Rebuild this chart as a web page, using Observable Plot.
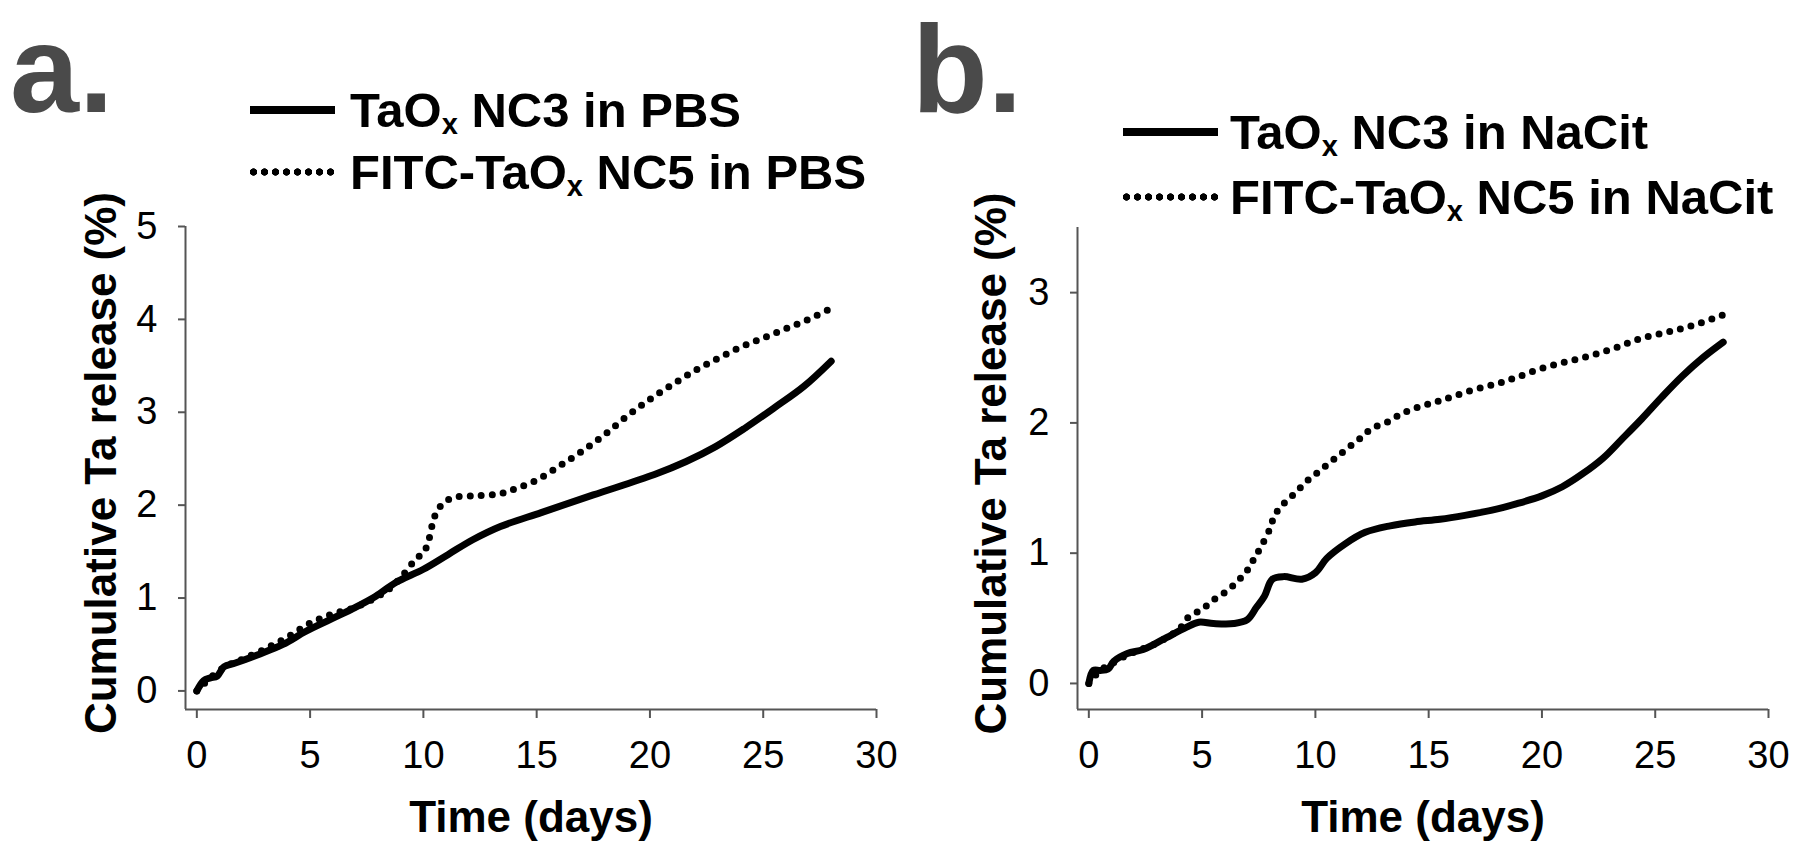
<!DOCTYPE html>
<html>
<head>
<meta charset="utf-8">
<script src="https://cdn.jsdelivr.net/npm/d3@7"></script>
<script src="https://cdn.jsdelivr.net/npm/@observablehq/plot@0.6"></script>
<style>
  body { margin: 0; background: #fff; }
  #root { position: relative; width: 1800px; height: 859px; overflow: hidden; font-family: "Liberation Sans", Arial, sans-serif; }
  .panel { position: absolute; top: 0; width: 900px; height: 859px; }
  .panel svg { display: block; max-width: none; }
  .letter { position: absolute; font-weight: bold; font-size: 124px; line-height: 1.117; color: #4a4a4a; white-space: nowrap; }
  .leg { position: absolute; font-weight: bold; font-size: 49px; line-height: 1; white-space: nowrap; color: #000; }
  .leg sub { font-size: 29px; vertical-align: -7px; line-height: 0; }
  .solid { position: absolute; height: 8px; background: #000; }
  .dots { position: absolute; height: 8px;
          background-image: radial-gradient(circle at center, #000 3.4px, transparent 4px);
          background-size: 11px 8px; background-repeat: repeat-x; }
</style>
</head>
<body>
<div id="root">
  <div class="panel" id="pa" style="left:0px"></div>
  <div class="panel" id="pb" style="left:900px"></div>

  <div class="letter" style="left:10px; top:0px;">a.</div>
  <div class="letter" style="left:912px; top:0px;">b.</div>

  <div class="solid" style="left:250px; top:106px; width:85px;"></div>
  <div class="leg" style="left:350px; top:86px;">TaO<sub>x</sub> NC3 in PBS</div>
  <div class="dots" style="left:248px; top:168px; width:88px;"></div>
  <div class="leg" style="left:350px; top:148px;">FITC-TaO<sub>x</sub> NC5 in PBS</div>

  <div class="solid" style="left:1123px; top:128px; width:95px;"></div>
  <div class="leg" style="left:1230px; top:108px;">TaO<sub>x</sub> NC3 in NaCit</div>
  <div class="dots" style="left:1121px; top:193px; width:99px;"></div>
  <div class="leg" style="left:1230px; top:173px;">FITC-TaO<sub>x</sub> NC5 in NaCit</div>
</div>
<script>
// ---------- data ----------
const xTicks = [0, 5, 10, 15, 20, 25, 30];
const yTicksA = [0, 1, 2, 3, 4, 5];
const yTicksB = [0, 1, 2, 3];
const xDomain = [-0.5, 30];
const yDomainA = [-0.2, 5];
const yDomainB = [-0.2, 3.5];

// Panel a: PBS
const dayNC3PBS = [0, 0.3, 0.6, 0.9, 1.2, 1.7, 2.7, 3.8, 4.8, 5.9, 7.0, 7.9, 8.8, 10.0, 11.1, 12.2, 13.4, 15.2, 17.5, 20.2, 21.6, 22.9, 24.2, 25.5, 26.8, 28];
const relNC3PBS = [0, 0.11, 0.14, 0.16, 0.26, 0.3, 0.39, 0.5, 0.64, 0.77, 0.9, 1.02, 1.17, 1.31, 1.47, 1.63, 1.77, 1.92, 2.11, 2.33, 2.47, 2.63, 2.83, 3.05, 3.28, 3.55];

const dayFITCPBS = [0, 0.5, 1, 1.5, 2, 3, 4, 5, 6, 7, 8, 8.5, 9, 9.6, 10.1, 10.5, 10.8, 11.3, 12.3, 13.3, 14, 15, 16, 17, 18, 19, 20, 21, 22, 23, 24, 25, 26, 27, 28];
const relFITCPBS = [0, 0.12, 0.22, 0.29, 0.34, 0.45, 0.58, 0.73, 0.83, 0.9, 1.02, 1.1, 1.22, 1.4, 1.53, 1.88, 2.0, 2.08, 2.1, 2.12, 2.17, 2.27, 2.42, 2.58, 2.76, 2.96, 3.14, 3.3, 3.45, 3.58, 3.7, 3.8, 3.9, 4.0, 4.12];

// Panel b: NaCit
const dayNC3Cit = [0, 0.2, 0.5, 0.85, 1.1, 1.7, 2.4, 3.3, 4.3, 4.85, 5.5, 6.4, 7.0, 7.4, 7.75, 8.1, 8.6, 9.4, 10.0, 10.5, 11.3, 12.2, 13.3, 14.4, 15.5, 16.6, 17.8, 18.9, 20.0, 20.9, 21.8, 22.7, 23.5, 24.4, 25.3, 26.2, 27.1, 28];
const relNC3Cit = [0, 0.1, 0.1, 0.11, 0.17, 0.23, 0.26, 0.34, 0.43, 0.47, 0.46, 0.46, 0.49, 0.585, 0.67, 0.8, 0.82, 0.8, 0.85, 0.96, 1.07, 1.16, 1.21, 1.24, 1.26, 1.29, 1.33, 1.38, 1.44, 1.51, 1.61, 1.73, 1.87, 2.03, 2.2, 2.36, 2.5, 2.62];

const dayFITCCit = [0, 0.5, 1, 1.5, 2, 3, 4, 4.4, 5, 5.5, 6.1, 6.6, 7.0, 7.3, 7.6, 8.0, 8.2, 8.6, 9.1, 9.6, 10.1, 10.6, 11.1, 11.6, 12.1, 12.5, 13.1, 13.6, 14.2, 14.9, 15.5, 16.2, 17.1, 18.0, 18.9, 20.0, 21.1, 22.2, 23.3, 24.4, 25.6, 26.7, 28];
const relFITCCit = [0, 0.1, 0.15, 0.2, 0.24, 0.31, 0.42, 0.51, 0.57, 0.64, 0.71, 0.79, 0.87, 0.96, 1.05, 1.19, 1.29, 1.38, 1.46, 1.55, 1.62, 1.69, 1.76, 1.83, 1.9, 1.96, 2.0, 2.05, 2.1, 2.14, 2.17, 2.21, 2.26, 2.3, 2.35, 2.42, 2.47, 2.52, 2.58, 2.65, 2.7, 2.75, 2.83];

const toRows = (days, vals) => days.map((d, i) => ({day: d, value: vals[i]}));
const intFmt = d3.format("d");

function panel({yDomain, yTicks, solid, dotted, marginLeft, marginRight, marginTop, titleDx}) {
  return Plot.plot({
    width: 900,
    height: 859,
    marginLeft, marginRight, marginTop,
    marginBottom: 150,
    style: {fontFamily: '"Liberation Sans", Arial, sans-serif', background: "transparent", color: "#000", overflow: "visible"},
    x: {domain: xDomain},
    y: {domain: yDomain},
    marks: [
      Plot.ruleY([yDomain[0]], {stroke: "#555", strokeWidth: 2}),
      Plot.ruleX([xDomain[0]], {stroke: "#555", strokeWidth: 2}),
      Plot.axisX({ticks: xTicks, tickFormat: intFmt, tickSize: 9, tickPadding: 23, fontSize: 38, stroke: "#555", strokeWidth: 2, fill: "#000", label: null}),
      Plot.axisY({ticks: yTicks, tickFormat: intFmt, tickSize: 7, tickPadding: 21, fontSize: 38, stroke: "#555", strokeWidth: 2, fill: "#000", label: null}),
      Plot.line(solid, {x: "day", y: "value", stroke: "#000", strokeWidth: 7, curve: "catmull-rom", strokeLinejoin: "round", strokeLinecap: "round"}),
      Plot.line(dotted, {x: "day", y: "value", stroke: "#000", strokeWidth: 7, curve: "catmull-rom", strokeDasharray: "0 11", strokeLinecap: "round"}),
      Plot.text(["Time (days)"], {text: d => d, frameAnchor: "bottom", dy: 122, fontSize: 44, fontWeight: "bold"}),
      Plot.text(["Cumulative Ta release (%)"], {text: d => d, frameAnchor: "left", textAnchor: "middle", dx: titleDx, dy: -5, rotate: -90, fontSize: 44, fontWeight: "bold"})
    ]
  });
}

document.getElementById("pa").appendChild(panel({
  yDomain: yDomainA, yTicks: yTicksA,
  solid: toRows(dayNC3PBS, relNC3PBS), dotted: toRows(dayFITCPBS, relFITCPBS),
  marginLeft: 185, marginRight: 24, marginTop: 226, titleDx: -84
}));
document.getElementById("pb").appendChild(panel({
  yDomain: yDomainB, yTicks: yTicksB,
  solid: toRows(dayNC3Cit, relNC3Cit), dotted: toRows(dayFITCCit, relFITCCit),
  marginLeft: 177, marginRight: 32, marginTop: 227, titleDx: -86
}));
</script>
</body>
</html>
